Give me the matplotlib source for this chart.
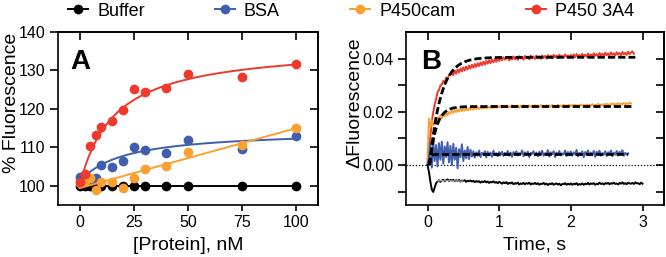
import numpy as np
import matplotlib
matplotlib.use("Agg")
import matplotlib.pyplot as plt
from matplotlib.lines import Line2D
from matplotlib.ticker import FormatStrFormatter

plt.rcParams["font.family"] = ["Liberation Sans", "DejaVu Sans"]

# ---------------- panel A: titration ----------------
protein_nM = [0, 2.5, 5, 7.5, 10, 15, 20, 25, 30, 40, 50, 75, 100]
buffer_pct = [100, 100, 100, 100, 100, 100, 100, 100, 100, 100, 100, 100, 100]
bsa_pct = [102.4, 101.6, 101.8, 102.0, 105.3, 104.9, 106.4, 110.1, 109.4, 108.5, 111.8, 109.5, 113.0]
cam_pct = [100.8, 101.3, 102.0, 99.0, 101.1, 100.9, 99.5, 101.9, 104.4, 105.1, 108.7, 110.5, 115.0]
cyp3a4_pct = [101.1, 103.0, 110.4, 113.2, 115.2, 116.9, 119.8, 125.2, 124.4, 125.4, 129.2, 128.4, 131.6]

# fit parameters (hyperbolic / linear)
cyp3a4_fit = {"y0": 100.0, "bmax": 36.6, "kd": 16.0}
bsa_fit = {"y0": 101.0, "bmax": 13.5, "kd": 20.0}
cam_fit = {"intercept": 99.4, "slope": 0.156}

# ---------------- panel B: stopped flow (units of 1e-4) ----------------
dt = 0.02
red_trace = [5, 62, 108, 163, 198, 228, 247, 274, 282, 299, 303, 316, 311, 329, 324, 338,
             339, 344, 338, 355, 343, 359, 348, 363, 352, 367, 355, 370, 359, 374, 363,
             377, 366, 380, 369, 383, 372, 386, 375, 389, 377, 391, 381, 394, 383, 396, 386, 399, 388, 401, 391,
             403, 394, 405, 396, 401, 407, 393, 404, 397, 408, 398, 405, 395, 409, 400, 406, 396, 410, 401, 407, 397, 411, 402, 408, 399,
             411, 402, 409, 399, 412, 403, 410, 400, 413, 404, 411, 401, 414, 405, 412, 402, 415, 406, 411, 403, 416, 407, 412, 404, 414,
             406, 416, 405, 417, 408, 414, 406, 418, 409, 415, 407, 419, 410, 416, 408, 420, 411, 417, 409, 421, 412, 418, 410, 422, 413,
             420, 411, 423, 414, 420, 412, 424, 415, 421, 413, 425, 416, 422, 414, 426, 417, 423, 427, 418]
orange_trace = [20, 175, 140, 168, 150, 166, 160, 178, 170, 186, 176, 190, 183, 196, 187, 199,
                194, 203, 196, 206, 199, 208, 201, 210, 203, 211, 205, 213, 206, 214, 208,
                215, 208, 216, 210, 218, 211, 217, 212, 219, 213, 220, 214, 219, 215, 221, 214, 222, 216, 221, 217,
                223, 216, 222, 217, 224, 216, 221, 218, 225, 217, 222, 219, 224, 216, 223, 218, 225, 219, 222, 217, 224, 220, 223, 218, 225,
                219, 224, 217, 226, 220, 223, 218, 225, 221, 224, 219, 226, 220, 223, 218, 227, 221, 224, 220, 226, 219, 225, 222, 227, 221,
                226, 220, 227, 222, 225, 221, 228, 223, 226, 221, 228, 224, 227, 222, 229, 223, 226, 224, 230, 225, 228, 223, 229, 226, 231,
                225, 229, 227, 232, 226, 230, 228, 233, 227, 231, 229, 234, 228, 232, 230, 235, 231]
blue_trace = [0, 25, 85, -10, 90, 15, 75, -5, 82, 20, 88, 5, 70, 30, 86, 10,
              72, 0, 80, 20, 65, -12, 60, 30, 78, 15, 55, 25, 68, 22, 58,
              32, 52, 28, 48, 35, 55, 30, 46, 38, 52, 29, 50, 36, 47, 31, 54, 37, 45, 33, 49,
              38, 50, 34, 46, 40, 53, 35, 47, 31, 49, 39, 52, 36, 45, 41, 55, 33, 48, 38, 51, 30, 46, 42, 52, 36,
              47, 33, 50, 40, 54, 35, 45, 39, 56, 32, 48, 41, 52, 30, 47, 38, 53, 36, 44, 40, 55, 34, 49, 37, 51,
              35, 48, 40, 57, 33, 46, 39, 52, 30, 49, 42, 55, 36, 47, 38, 53, 31, 50, 41, 54, 35, 45, 39, 52, 34,
              48, 41, 55, 33, 47, 39, 53, 36, 50, 42, 56, 35, 46, 40, 44]
black_trace = [0, -25, -62, -92, -101, -84, -68, -61, -57, -63, -58, -55, -61, -57, -54, -60,
               -56, -59, -55, -61, -57, -60, -56, -62, -58, -60, -57, -63, -59, -61, -58,
               -62, -59, -64, -60, -63, -61, -66, -62, -64, -60, -65, -62, -67, -63, -65, -61, -66, -64, -68, -63,
               -66, -70, -65, -68, -64, -71, -67, -69, -65, -72, -68, -70, -66, -73, -69, -71, -67, -72, -68, -70, -66, -73, -69, -71, -67,
               -72, -68, -74, -70, -71, -67, -73, -69, -75, -70, -72, -68, -74, -71, -69, -73, -70, -76, -71, -72, -68, -74, -70, -73, -69,
               -74, -70, -72, -68, -75, -71, -73, -69, -74, -70, -72, -67, -73, -69, -71, -68, -74, -70, -72, -66, -71, -69, -73, -68, -70,
               -67, -72, -68, -70, -66, -71, -69, -73, -67, -70, -65, -71, -68, -72, -66, -69, -70, -67, -71, -65, -69, -68, -72, -66, -70]

# single exponential fits: amplitude, rate (1/s), start, end
red_exp = {"amp": 0.0405, "k": 6.5, "t0": 0.03, "t1": 2.9}
orange_exp = {"amp": 0.022, "k": 11.0, "t0": 0.03, "t1": 2.85}
blue_exp = {"amp": 0.004, "k": 60.0, "t0": 0.02, "t1": 2.8}
black_fit_t = [0.07, 0.5]
black_fit_y = [-0.0059, -0.0060]

labels = ["Buffer", "BSA", "P450cam", "P450 3A4"]
colors = ["black", "#3F5EAD", "#F9A031", "#EE3A2C"]

fig = plt.figure(figsize=(6.66, 2.57), dpi=100)
axA = fig.add_axes([58/666, 52/257, 260/666, 173/257])
axB = fig.add_axes([406/666, 52/257, 258/666, 173/257])

ms = 7
xs = np.linspace(0, 100, 400)
axA.plot(protein_nM, buffer_pct, "-", color=colors[0], lw=1.4)
axA.plot(protein_nM, buffer_pct, "o", color=colors[0], ms=ms, mew=0)
axA.plot(xs, bsa_fit["y0"] + bsa_fit["bmax"]*xs/(bsa_fit["kd"]+xs), color=colors[1], lw=1.4)
axA.plot(protein_nM, bsa_pct, "o", color=colors[1], ms=ms, mew=0)
axA.plot(xs, cam_fit["intercept"] + cam_fit["slope"]*xs, color=colors[2], lw=1.4)
axA.plot(protein_nM, cam_pct, "o", color=colors[2], ms=ms, mew=0)
axA.plot(xs, cyp3a4_fit["y0"] + cyp3a4_fit["bmax"]*xs/(cyp3a4_fit["kd"]+xs), color=colors[3], lw=1.4)
axA.plot(protein_nM, cyp3a4_pct, "o", color=colors[3], ms=ms, mew=0)

axA.set_xlim(-10, 110)
axA.set_ylim(95, 140)
axA.set_xticks([0, 25, 50, 75, 100])
axA.set_yticks([100, 110, 120, 130, 140])
axA.text(0.046, 0.9, "A", transform=axA.transAxes, fontsize=20, fontweight="bold", va="top", ha="left")

axB.axhline(0, color="black", lw=0.9, ls=(0, (1, 1.5)))
for trace, c in [(red_trace, colors[3]), (orange_trace, colors[2]), (blue_trace, colors[1]), (black_trace, colors[0])]:
	y = np.array(trace) * 1e-4
	t = np.arange(len(y)) * dt
	axB.plot(t, y, color=c, lw=1.4)
axB.plot(black_fit_t, black_fit_y, color="white", lw=0.6)
for f in [red_exp, orange_exp, blue_exp]:
	t = np.linspace(f["t0"], f["t1"], 400)
	axB.plot(t, f["amp"]*(1-np.exp(-f["k"]*(t-f["t0"]))), color="black", lw=2.0, dashes=(2.6, 1.1))

axB.set_xlim(-0.3, 3.3)
axB.set_ylim(-0.015, 0.05)
axB.set_xticks([0, 1, 2, 3])
axB.set_yticks([0, 0.02, 0.04])
axB.set_yticks([-0.01, 0.01, 0.03], minor=True)
axB.yaxis.set_major_formatter(FormatStrFormatter("%.2f"))
axB.text(0.058, 0.9, "B", transform=axB.transAxes, fontsize=20, fontweight="bold", va="top", ha="left")

for ax, xt, yt in [(axA, [0, 25, 50, 75, 100], [100, 110, 120, 130, 140]),
                   (axB, [0, 1, 2, 3], [-0.01, 0, 0.01, 0.02, 0.03, 0.04])]:
	for s in ax.spines.values():
		s.set_linewidth(1.2)
	ax.tick_params(axis="both", which="both", labelsize=11.5, width=1.2, pad=3)
	ax.tick_params(axis="x", which="both", direction="out", length=4)
	ax.tick_params(axis="y", which="both", direction="out", length=6)
	top = ax.secondary_xaxis("top")
	top.set_xticks(xt)
	top.tick_params(direction="in", length=6, width=1.2, labeltop=False)
	top.spines["top"].set_linewidth(1.2)
	right = ax.secondary_yaxis("right")
	right.set_yticks(yt)
	right.tick_params(direction="in", length=6, width=1.2, labelright=False)
	right.spines["right"].set_linewidth(1.2)

fig.text(12/666, 1-103/257, "% Fluorescence", rotation=90, fontsize=14, ha="center", va="center")
fig.text(355/666, 1-103/257, "\u0394Fluorescence", rotation=90, fontsize=14, ha="center", va="center")
fig.text(188/666, 1-245/257, "[Protein], nM", fontsize=14, ha="center", va="center")
fig.text(535/666, 1-245/257, "Time, s", fontsize=14, ha="center", va="center")

handles = [Line2D([], [], color=c, marker="o", ms=ms, mew=0, lw=1.4) for c in colors]
fig.legend(handles, labels, loc="center", bbox_to_anchor=(351/666, 1-11/257), ncol=4,
           frameon=False, fontsize=13, handlelength=1.1, handletextpad=0.5,
           columnspacing=3.9, borderpad=0, borderaxespad=0)

fig.savefig("out.png", dpi=100)
